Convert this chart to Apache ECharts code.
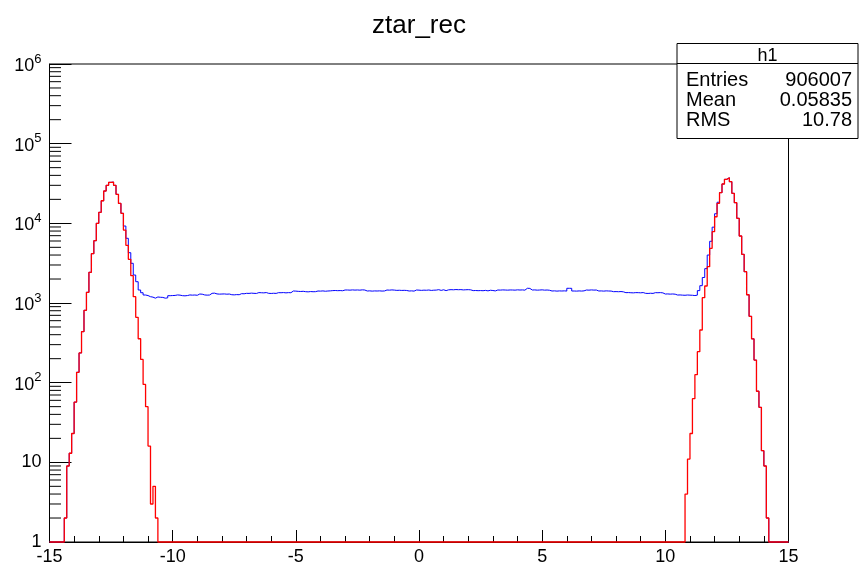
<!DOCTYPE html>
<html><head><meta charset="utf-8">
<script src="https://cdn.jsdelivr.net/npm/echarts@6/dist/echarts.min.js"></script>
<style>html,body{margin:0;padding:0;background:#fff}#c{width:859px;height:566px}</style>
</head><body><div id="c"></div>
<script>
// ---------------- data ----------------
const chartTitle = 'ztar_rec';
const histName = 'h1';
const statLabels = ['Entries', 'Mean', 'RMS'];
const statValues = ['906007', '0.05835', '10.78'];

const xMin = -15, xMax = 15, binWidth = 0.1, nBins = 300;
const yMin = 1, yMax = 1e6;

// red histogram: left peak, bins 6..43
const redLeftStart = 6;
const redLeft = [2, 9, 13, 23, 57, 135, 236, 437, 810, 1362,
  2430, 4160, 6050, 10000, 13750, 19200, 25450, 30000, 32700, 33000,
  30000, 23100, 17800, 13360, 8240, 5300, 3530, 2200, 1200, 661,
  356, 196, 95, 50, 16, 3, 5, 2];
// red histogram: right peak, bins 258..291
const redRightStart = 258;
const redRight = [4, 11, 23, 63, 126, 245, 458, 1166, 1634, 2856,
  4860, 7850, 12100, 17830, 24270, 31170, 35670, 37400, 33300, 23800,
  18150, 11570, 6930, 4080, 2470, 1270, 680, 355, 192, 78,
  49, 14, 9, 2];
// blue histogram where it differs from red: bins 30..271
const blueInnerStart = 30;
const blueInner = [
  9250, 6490, 4280, 3150, 2245, 1850, 1456, 1346, 1260,
  1240, 1200, 1185, 1150, 1190, 1180, 1175, 1150, 1160, 1235, 1240,
  1245, 1262, 1255, 1236, 1230, 1240, 1262, 1255, 1260, 1250,
  1296, 1290, 1262, 1255, 1260, 1322, 1330, 1300, 1292, 1296,
  1300, 1290, 1296, 1270, 1265, 1275, 1270, 1310, 1305, 1322,
  1320, 1330, 1322, 1318, 1350, 1345, 1340, 1352, 1322, 1318,
  1325, 1320, 1348, 1345, 1352, 1340, 1350, 1345, 1414, 1410,
  1400, 1395, 1402, 1387, 1380, 1392, 1385, 1388, 1414, 1410,
  1418, 1405, 1414, 1420, 1430, 1435, 1428, 1432, 1425, 1456,
  1456, 1450, 1460, 1452, 1458, 1450, 1462, 1455, 1414, 1420,
  1410, 1418, 1414, 1420, 1412, 1416, 1456, 1450, 1460, 1452,
  1440, 1445, 1438, 1442, 1436, 1414, 1420, 1410, 1456, 1450,
  1440, 1450, 1445, 1456, 1438, 1448, 1452, 1470, 1440, 1465,
  1430, 1462, 1470, 1465, 1475, 1468, 1472, 1460, 1466, 1470,
  1462, 1430, 1435, 1428, 1432, 1426, 1440, 1420, 1445, 1435,
  1418, 1456, 1452, 1460, 1455, 1450, 1458, 1456, 1450, 1462,
  1455, 1460, 1450, 1530, 1525, 1456, 1460, 1450, 1455, 1462,
  1450, 1456, 1445, 1414, 1420, 1410, 1418, 1414, 1420, 1412,
  1530, 1528, 1414, 1410, 1418, 1412, 1420, 1456, 1450, 1460,
  1452, 1455, 1414, 1418, 1410, 1420, 1414, 1412, 1387, 1390,
  1385, 1392, 1380, 1348, 1352, 1345, 1340, 1350, 1348, 1342,
  1352, 1322, 1318, 1325, 1320, 1348, 1345, 1350, 1340, 1296,
  1300, 1292, 1298, 1290, 1259, 1262, 1255, 1250, 1260, 1255,
  1250, 1240, 1255,
  1430, 1650, 2090, 2700, 4000, 5950, 8950, 13200, 18400];

// ---------------- build ----------------
const red = new Array(nBins).fill(0);
redLeft.forEach((v, i) => red[redLeftStart + i] = v);
redRight.forEach((v, i) => red[redRightStart + i] = v);
const blue = red.slice();
blueInner.forEach((v, i) => blue[blueInnerStart + i] = v);

function stepPoints(arr) {
  const pts = [];
  for (let k = 0; k < nBins; k++) {
    const x = +(xMin + k * binWidth).toFixed(4);
    pts.push([x, arr[k] > 0 ? arr[k] : yMin]);
  }
  pts.push([xMax, arr[nBins - 1] > 0 ? arr[nBins - 1] : yMin]);
  return pts;
}

const yMinorTicks = [];
for (let e = 0; e < 6; e++) for (let d = 2; d <= 9; d++) yMinorTicks.push([xMin, d * Math.pow(10, e)]);

const FONT = 'Liberation Sans, Arial, Helvetica, sans-serif';
const chart = echarts.init(document.getElementById('c'), null, {renderer: 'canvas'});

const gL = 49.5, gT = 64, gR = 788.5, gB = 542.5;
const boxX = 677, boxY = 43.5, boxW = 181, boxH = 95, headH = 20;
const rowY = [80, 100.3, 120.6];

const statText = [];
statLabels.forEach((s, i) => {
  statText.push({type: 'text', x: boxX + 9, y: rowY[i],
    style: {text: s, font: '20px ' + FONT, fill: '#000', align: 'left', verticalAlign: 'middle'}, z: 101});
  statText.push({type: 'text', x: boxX + boxW - 6, y: rowY[i],
    style: {text: statValues[i], font: '20px ' + FONT, fill: '#000', align: 'right', verticalAlign: 'middle'}, z: 101});
});

chart.setOption({
  animation: false,
  backgroundColor: '#fff',
  grid: {left: gL, top: gT, width: gR - gL, height: gB - gT, show: true, borderColor: '#000', borderWidth: 1, containLabel: false},
  xAxis: {
    type: 'value', min: xMin, max: xMax, interval: 5,
    axisLine: {onZero: false, lineStyle: {color: '#000', width: 1}},
    axisTick: {inside: true, length: 12, lineStyle: {color: '#000'}},
    minorTick: {show: true, splitNumber: 5, length: 6, lineStyle: {color: '#000'}},
    splitLine: {show: false},
    axisLabel: {fontSize: 18, color: '#000', margin: 6, fontFamily: FONT}
  },
  yAxis: {
    type: 'log', logBase: 10, min: yMin, max: yMax,
    axisLine: {show: true, onZero: false, lineStyle: {color: '#000', width: 1}},
    axisTick: {show: true, inside: true, length: 22, lineStyle: {color: '#000'}},
    splitLine: {show: false},
    axisLabel: {
      color: '#000', fontSize: 18, fontFamily: FONT, margin: 8,
      formatter: function (v) {
        const n = Math.round(Math.log10(v));
        if (n === 0) return '1';
        if (n === 1) return '10';
        return '{b|10}{s|' + n + '}';
      },
      rich: {
        b: {fontSize: 18, fontFamily: FONT, color: '#000', lineHeight: 18, padding: [4, 0, 0, 0], verticalAlign: 'middle'},
        s: {fontSize: 13, fontFamily: FONT, color: '#000', lineHeight: 13, padding: [0, 0, 10, 0], verticalAlign: 'middle'}
      }
    }
  },
  graphic: [
    {type: 'text', x: 419, y: 26, style: {text: chartTitle, font: '26px ' + FONT, fill: '#000', align: 'center', verticalAlign: 'middle'}},
    {type: 'rect', shape: {x: boxX, y: boxY, width: boxW, height: boxH}, style: {fill: '#fff', stroke: '#000', lineWidth: 1}, z: 100},
    {type: 'line', shape: {x1: boxX, y1: boxY + headH, x2: boxX + boxW, y2: boxY + headH}, style: {stroke: '#000', lineWidth: 1}, z: 101},
    {type: 'text', x: boxX + boxW / 2, y: 56, style: {text: histName, font: '18px ' + FONT, fill: '#000', align: 'center', verticalAlign: 'middle'}, z: 101}
  ].concat(statText),
  series: [
    {type: 'custom', coordinateSystem: 'cartesian2d', silent: true, data: yMinorTicks, z: 1,
      renderItem: function (params, api) {
        const p = api.coord([api.value(0), api.value(1)]);
        return {type: 'line', shape: {x1: p[0], y1: p[1], x2: p[0] + 11.5, y2: p[1]}, style: {stroke: '#000', lineWidth: 1}};
      }},
    {type: 'line', name: 'blue', data: stepPoints(blue), step: 'end', showSymbol: false, symbol: 'none', clip: false,
      lineStyle: {color: '#0000ff', width: 1}, z: 2},
    {type: 'line', name: 'red', data: stepPoints(red), step: 'end', showSymbol: false, symbol: 'none', clip: false,
      lineStyle: {color: '#ff0000', width: 1.3}, z: 3}
  ]
});
</script></body></html>
